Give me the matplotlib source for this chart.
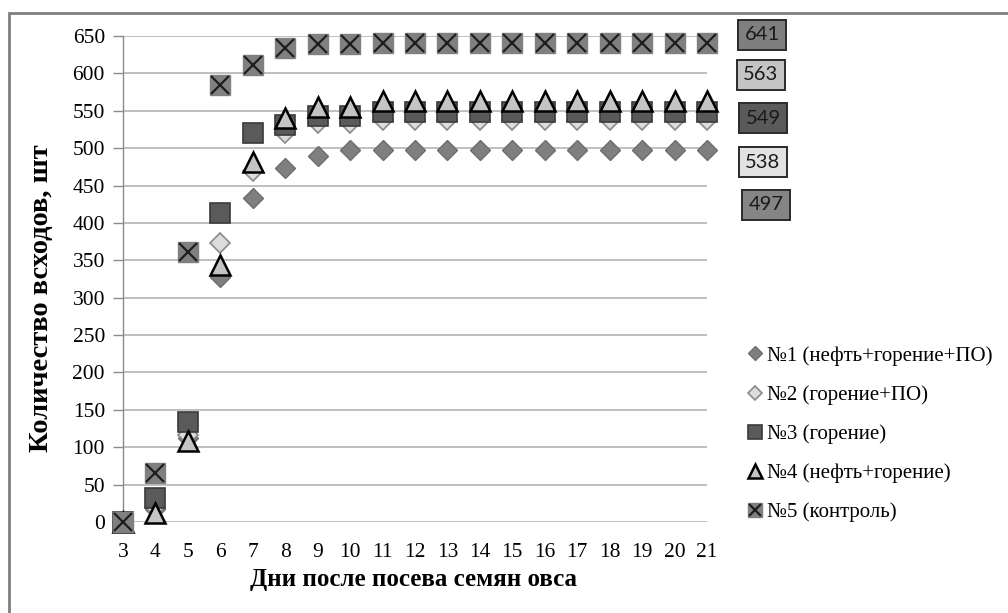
import matplotlib
matplotlib.use("Agg")
import matplotlib.pyplot as plt
from matplotlib.patches import Rectangle
from matplotlib.legend_handler import HandlerTuple

# ---------------------------------------------------------------------------
# Data
# ---------------------------------------------------------------------------
days = list(range(3, 22))

s1 = [0, 18, 113, 328, 434, 474, 490, 497, 497, 497, 497, 497, 497, 497, 497, 497, 497, 497, 497]
s2 = [0, 20, 116, 373, 470, 520, 533, 533, 538, 538, 538, 538, 538, 538, 538, 538, 538, 538, 538]
s3 = [0, 32, 134, 413, 520, 531, 543, 543, 549, 549, 549, 549, 549, 549, 549, 549, 549, 549, 549]
s4 = [0, 12, 108, 344, 481, 540, 555, 555, 563, 563, 563, 563, 563, 563, 563, 563, 563, 563, 563]
s5 = [0, 66, 361, 585, 611, 634, 639, 639, 641, 641, 641, 641, 641, 641, 641, 641, 641, 641, 641]

labels = [
    "№1 (нефть+горение+ПО)",
    "№2 (горение+ПО)",
    "№3 (горение)",
    "№4 (нефть+горение)",
    "№5 (контроль)",
]

y_ticks = list(range(0, 651, 50))

# final-value boxes on the right, top to bottom: (series value, face colour)
end_boxes = [(s5[-1], "#7f7f7f"), (s4[-1], "#c4c4c4"), (s3[-1], "#5a5a5a"),
             (s2[-1], "#e2e2e2"), (s1[-1], "#858585")]

SERIF = ["Liberation Serif", "DejaVu Serif"]

plt.rcParams.update({
    "font.family": SERIF,
    "font.size": 15,
})

fig = plt.figure(figsize=(10.08, 6.13), dpi=100)
ax = fig.add_axes([123 / 1008, 1 - 522 / 613, 584 / 1008, 486 / 613])

common = dict(linestyle="none", clip_on=False)
h1, = ax.plot(days, s1, marker="D", ms=10.5, mfc="#7f7f7f", mec="#6e6e6e", mew=1.0,
              zorder=3, **common)
h2, = ax.plot(days, s2, marker="D", ms=10.5, mfc="#dcdcdc", mec="#8a8a8a", mew=1.2,
              zorder=4, **common)
h3, = ax.plot(days, s3, marker="s", ms=14, mfc="#5a5a5a", mec="#3a3a3a", mew=1.2,
              zorder=5, **common)
h4, = ax.plot(days, s4, marker="^", ms=15, mfc="#c4c4c4", mec="#000000", mew=1.8,
              zorder=6, **common)
h5a, = ax.plot(days, s5, marker="s", ms=14, mfc="#808080", mec="#808080", mew=1.0,
               zorder=7, **common)
h5b, = ax.plot(days, s5, marker="x", ms=13, mec="#1e1e1e", mew=1.6,
               zorder=8, **common)

ax.set_xlim(3, 21)
ax.set_ylim(0, 650)
ax.set_xticks(days)
ax.set_yticks(y_ticks)
ax.tick_params(axis="x", length=0, pad=15, labelsize=15.5)
ax.tick_params(axis="y", length=7, width=1.0, color="#8a8a8a", pad=6, labelsize=15.5)
ax.yaxis.grid(True, color="#b4b4b4", linewidth=1.2)
ax.set_axisbelow(True)
for side in ["top", "right", "bottom"]:
    ax.spines[side].set_visible(False)
ax.spines["left"].set_color("#8a8a8a")
ax.spines["left"].set_linewidth(1.0)

ax.set_xlabel("Дни после посева семян овса", fontsize=18, fontweight="bold")
ax.xaxis.set_label_coords(0.497, -0.095)
ax.set_ylabel("Количество всходов, шт", fontsize=20.5, fontweight="bold")
ax.yaxis.set_label_coords(-0.118, 0.46)

leg = fig.legend([h1, h2, h3, h4, (h5a, h5b)], labels,
                 handler_map={tuple: HandlerTuple(ndivide=1, pad=0)},
                 loc="upper left", bbox_to_anchor=(748 / 1008, 1 - 346 / 613),
                 frameon=False, fontsize=15, markerscale=0.68,
                 handlelength=0.7, handletextpad=0.2, labelspacing=0.93,
                 borderaxespad=0, borderpad=0)

# final-value boxes
box_pos = [(762, 35), (761, 75), (763, 118), (763, 162), (766, 205)]
for (val, face), (px, py) in zip(end_boxes, box_pos):
    fig.text(px / 1008, 1 - py / 613, f"{val}", ha="center", va="center",
             fontsize=14.5, family=["Lato", "DejaVu Sans"], color="#1a1a1a",
             bbox=dict(boxstyle="square,pad=0.34", fc=face, ec="#2a2a2a", lw=1.4))

# outer chart border (right and bottom edges fall outside the picture)
fig.add_artist(Rectangle((9 / 1008, -0.2), 1.2, 1 - 13 / 613 + 0.2,
                         transform=fig.transFigure, fill=False,
                         ec="#7f7f7f", lw=2.0))

fig.savefig("out.png", dpi=100)
